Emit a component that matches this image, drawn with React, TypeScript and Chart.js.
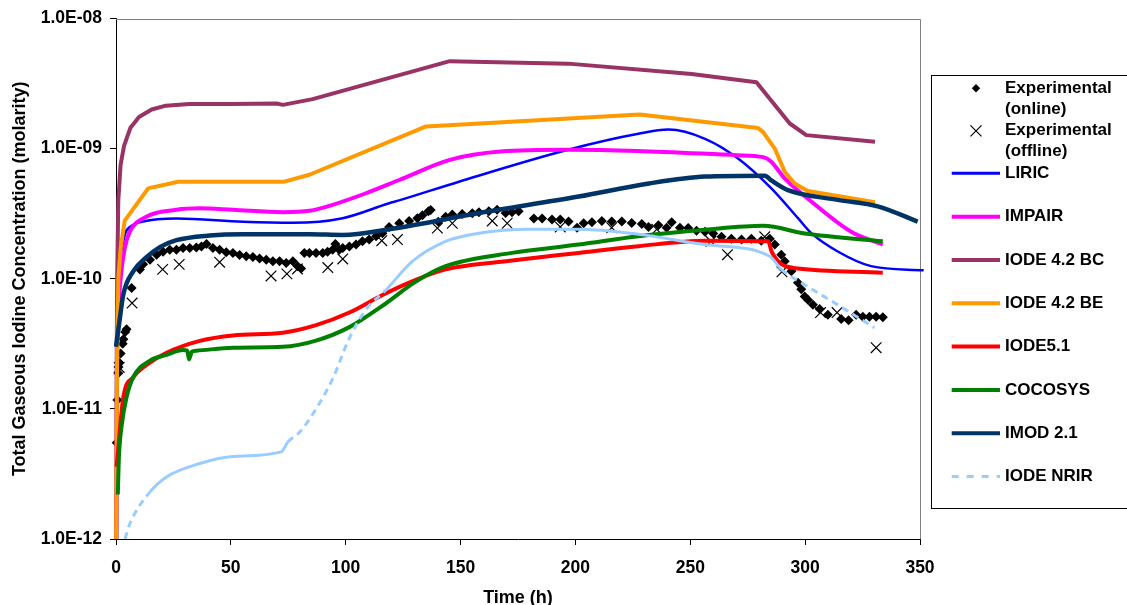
import React, { useEffect, useRef } from "react";
import { Chart, registerables } from "chart.js";

Chart.register(...registerables);

type Pt = [number, number];

const X_MIN = 0;
const X_MAX = 350;
const X_STEP = 50;
const Y_MIN = 1e-12;
const Y_MAX = 1e-8;
const Y_TICKS = [1e-12, 1e-11, 1e-10, 1e-9, 1e-8];

const X_TITLE = "Time (h)";
const Y_TITLE = "Total Gaseous Iodine Concentration (molarity)";

const EXP_ONLINE: Pt[] = [
  [0.3, 5.5e-12], [0.6, 1.17e-11], [1.0, 1.88e-11], [1.1, 2.1e-11], [1.4, 2.27e-11], [2.0, 2.66e-11],
  [2.9, 3.16e-11], [3.2, 3.43e-11], [4.0, 3.9e-11], [4.6, 4.1e-11],
  [6.8, 8.5e-11], [10.4, 1.18e-10], [11.8, 1.29e-10], [14.8, 1.4e-10], [17.7, 1.53e-10], [20.5, 1.61e-10],
  [23.4, 1.67e-10], [26.3, 1.67e-10], [29.2, 1.72e-10], [32.1, 1.72e-10], [35, 1.74e-10], [37.2, 1.77e-10],
  [39.4, 1.85e-10], [42.2, 1.72e-10], [45.1, 1.67e-10], [48, 1.6e-10], [50.9, 1.58e-10], [53.8, 1.52e-10],
  [56.7, 1.49e-10], [59.6, 1.47e-10], [62.5, 1.43e-10], [65.4, 1.4e-10], [68.3, 1.36e-10], [71.2, 1.36e-10],
  [74.1, 1.32e-10], [77, 1.36e-10], [79.1, 1.25e-10], [80.6, 1.2e-10], [82, 1.58e-10], [84.2, 1.58e-10],
  [87.1, 1.58e-10], [90, 1.58e-10], [92.1, 1.61e-10], [94.3, 1.67e-10], [95.5, 1.85e-10], [97.2, 1.67e-10],
  [98.7, 1.72e-10], [101.6, 1.77e-10], [104.5, 1.83e-10], [107.3, 1.94e-10], [110.2, 2.0e-10], [113.2, 2.12e-10],
  [116, 2.24e-10], [118.9, 2.5e-10], [123.3, 2.67e-10], [127.6, 2.78e-10], [131.2, 2.92e-10], [133.4, 3.07e-10],
  [136, 3.3e-10], [137, 3.38e-10], [140.3, 2.74e-10], [143.5, 3.0e-10], [146.4, 3.12e-10], [150.7, 3.14e-10],
  [155.1, 3.19e-10], [158, 3.25e-10], [162.3, 3.3e-10], [165.9, 3.39e-10], [169.6, 3.2e-10], [172.4, 3.25e-10],
  [175.3, 3.3e-10],
  [181.9, 2.9e-10], [185.5, 2.9e-10], [189.8, 2.85e-10], [193.4, 2.85e-10], [197, 2.75e-10], [200.7, 2.47e-10],
  [203.6, 2.67e-10], [207.2, 2.72e-10], [211.5, 2.78e-10], [215.8, 2.75e-10], [220.2, 2.75e-10], [224.5, 2.68e-10],
  [228.9, 2.63e-10], [231.8, 2.5e-10], [236.1, 2.58e-10], [239.7, 2.47e-10], [241.9, 2.72e-10], [245.5, 2.47e-10],
  [249.1, 2.45e-10], [252.7, 2.34e-10], [256.4, 2.3e-10], [260, 2.23e-10], [263.6, 2.1e-10], [267.9, 2.03e-10],
  [272.3, 2.0e-10], [276.6, 2.03e-10], [280.9, 1.96e-10], [284.6, 2.03e-10], [286.8, 1.83e-10], [289.6, 1.53e-10],
  [291.1, 1.36e-10], [294, 1.14e-10], [296.9, 9.3e-11], [298.3, 8.3e-11], [299.8, 7.3e-11], [301.2, 6.9e-11],
  [303.4, 6.3e-11], [306.3, 5.85e-11], [309.9, 5.3e-11], [315.7, 4.9e-11], [318.9, 4.8e-11], [322.2, 5.3e-11],
  [325.1, 5.1e-11], [328, 5.1e-11], [330.9, 5.1e-11], [333.8, 5.05e-11],
];

const EXP_OFFLINE: Pt[] = [
  [1.4, 2.08e-11], [7, 6.5e-11], [20.3, 1.18e-10], [27.5, 1.29e-10], [45.1, 1.34e-10], [67.5, 1.05e-10],
  [74.4, 1.09e-10], [79, 1.19e-10], [92.2, 1.22e-10], [98.7, 1.42e-10], [115.7, 1.96e-10], [122.5, 2.0e-10],
  [139.9, 2.45e-10], [146.4, 2.67e-10], [163.8, 2.78e-10], [170.3, 2.67e-10], [193.4, 2.5e-10], [215.8, 2.47e-10],
  [235.4, 2.4e-10], [259, 1.94e-10], [266.2, 1.53e-10], [282.4, 2.1e-10], [289.9, 1.13e-10], [306.7, 5.5e-11],
  [313.9, 5.5e-11], [330.9, 2.95e-11],
];

const LIRIC: Pt[] = [
  [0, 5e-13], [0.3, 3e-11], [1, 8e-11], [2, 1.4e-10], [3.9, 2.2e-10], [6.1, 2.5e-10], [11.8, 2.75e-10],
  [26.3, 2.9e-10], [55.3, 2.74e-10], [77, 2.69e-10], [98.7, 2.92e-10], [118.9, 3.8e-10], [123.3, 4.0e-10],
  [149.3, 5.57e-10], [196.8, 9.8e-10], [227.4, 1.3e-9], [240.5, 1.4e-9], [256.4, 1.19e-9], [270.8, 8.4e-10],
  [285.3, 4.95e-10], [296.9, 2.92e-10], [302.7, 2.24e-10], [314.2, 1.62e-10], [328.7, 1.25e-10], [351.6, 1.16e-10],
];

const IMPAIR: Pt[] = [
  [0, 5e-13], [0.5, 2e-11], [1, 5e-11], [2, 1e-10], [3.9, 1.75e-10], [6, 2.3e-10], [11.6, 2.9e-10],
  [26.3, 3.39e-10], [36.5, 3.48e-10], [50.9, 3.39e-10], [72.6, 3.25e-10], [84.2, 3.33e-10], [94.3, 3.7e-10],
  [108.8, 4.54e-10], [123.3, 5.74e-10], [145.3, 8.2e-10], [167.4, 9.5e-10], [196.8, 9.8e-10], [227, 9.6e-10],
  [270.4, 8.9e-10], [281.7, 8.6e-10], [285, 8.0e-10], [291.1, 5.9e-10], [302.7, 3.92e-10], [320, 2.3e-10],
  [333.8, 1.83e-10],
];

const IODE42_BC: Pt[] = [
  [0, 5e-13], [0.2, 1e-11], [0.5, 1e-10], [1, 4e-10], [2, 7.5e-10], [3.5, 1.05e-9], [6.3, 1.45e-9],
  [10, 1.75e-9], [15.5, 2.0e-9], [21.7, 2.14e-9], [32, 2.2e-9], [50, 2.2e-9], [70, 2.22e-9], [72.6, 2.17e-9],
  [85.6, 2.4e-9], [145.3, 4.7e-9], [196.8, 4.5e-9], [250.6, 3.75e-9], [278.8, 3.24e-9], [293.3, 1.56e-9],
  [300.5, 1.27e-9], [330.4, 1.13e-9],
];

const IODE42_BE: Pt[] = [
  [0, 5e-13], [0.5, 3e-11], [1, 1e-10], [2, 1.7e-10], [3.8, 2.8e-10], [14, 4.95e-10], [27, 5.57e-10],
  [73.3, 5.57e-10], [84.2, 6.3e-10], [135, 1.48e-9], [228, 1.83e-9], [279.5, 1.44e-9], [281.7, 1.34e-9],
  [286.8, 1.0e-9], [291.1, 6.65e-10], [295.4, 5.4e-10], [301.2, 4.73e-10], [330.4, 3.87e-10],
];

const IODE51: Pt[] = [
  [0.3, 3.6e-12], [3.2, 1.23e-11], [7.5, 1.75e-11], [14.8, 2.27e-11], [22, 2.7e-11], [36.5, 3.33e-11],
  [50.9, 3.67e-11], [72.6, 3.85e-11], [87.1, 4.4e-11], [101.6, 5.5e-11], [116, 7.5e-11], [130.5, 9.8e-11],
  [143.5, 1.18e-10], [172.4, 1.38e-10], [201.4, 1.58e-10], [227.4, 1.78e-10], [256.4, 1.96e-10],
  [283.9, 1.94e-10], [285.5, 1.6e-10], [288.5, 1.35e-10], [291.4, 1.25e-10], [296.9, 1.2e-10], [333.8, 1.11e-10],
];

const COCOSYS: Pt[] = [
  [0.8, 2.2e-12], [1.2, 4e-12], [2.5, 7.5e-12], [4.6, 1.23e-11], [7.5, 1.75e-11], [14.8, 2.35e-11],
  [22, 2.6e-11], [29.2, 2.83e-11], [31, 2.8e-11], [31.8, 2.4e-11], [33, 2.75e-11], [35, 2.8e-11],
  [50.9, 2.95e-11], [72.6, 3.0e-11], [87.1, 3.35e-11], [101.6, 4.25e-11], [116, 6.2e-11], [130.5, 9.5e-11],
  [143.5, 1.25e-10], [172.4, 1.58e-10], [201.4, 1.83e-10], [227.4, 2.12e-10], [256.4, 2.38e-10],
  [281.7, 2.55e-10], [299.8, 2.23e-10], [333.8, 1.94e-10],
];

const IMOD21: Pt[] = [
  [0, 3e-11], [1.7, 5e-11], [3.2, 7.6e-11], [7.5, 1.14e-10], [13, 1.45e-10], [19.1, 1.75e-10], [26.3, 1.98e-10],
  [40.8, 2.15e-10], [55.3, 2.2e-10], [84.2, 2.2e-10], [98.7, 2.17e-10], [118.9, 2.4e-10], [158, 3.2e-10],
  [201.4, 4.28e-10], [232, 5.4e-10], [256.4, 6.1e-10], [282.4, 6.2e-10], [285.3, 5.7e-10], [292.5, 4.8e-10],
  [314.2, 4.04e-10], [331.6, 3.6e-10], [349, 2.75e-10],
];

const IODE_NRIR: Pt[] = [
  [3.9, 1e-12], [6.1, 1.32e-12], [14.8, 2.3e-12], [22, 3.0e-12], [36.5, 3.8e-12], [50.9, 4.3e-12],
  [71.9, 4.67e-12], [74.8, 5.56e-12], [79.9, 6.6e-12], [87.1, 1.0e-11], [94.3, 1.7e-11], [101.6, 3.5e-11],
  [108.8, 5.8e-11], [117.5, 8.2e-11], [129, 1.36e-10], [143.5, 1.94e-10], [158, 2.24e-10], [179.7, 2.4e-10],
  [201.4, 2.4e-10], [227.4, 2.2e-10], [256.4, 1.83e-10], [284.6, 1.49e-10], [289.6, 1.18e-10],
  [299.8, 9.0e-11], [314.2, 6.3e-11], [330.2, 4.2e-11],
];

// portions of IODE NRIR that render as solid (dense points in the original)
const NRIR_SOLID_RANGES: Pt[] = [[14, 75], [117, 290]];

const FONT = 'Arial, "Liberation Sans", Helvetica, sans-serif';

const toXY = (pts: Pt[]) => pts.map(([x, y]) => ({ x, y }));

const fmtTick = (v: number) => {
  const e = Math.round(Math.log10(v));
  const sign = e < 0 ? "-" : "+";
  return `1.0E${sign}${String(Math.abs(e)).padStart(2, "0")}`;
};

const lineDs = (label: string, data: Pt[], color: string, width: number, extra: any = {}) => ({
  label,
  data: toXY(data),
  borderColor: color,
  backgroundColor: color,
  borderWidth: width,
  pointRadius: 0,
  pointHoverRadius: 0,
  fill: false,
  borderJoinStyle: "round",
  ...extra,
});

const frameBorderPlugin = {
  id: "frameBorder",
  beforeDatasetsDraw(chart: any) {
    const { ctx, chartArea: a } = chart;
    ctx.save();
    ctx.strokeStyle = "#808080";
    ctx.lineWidth = 1;
    ctx.beginPath();
    ctx.moveTo(a.left, Math.round(a.top) + 0.5);
    ctx.lineTo(Math.round(a.right) + 0.5, Math.round(a.top) + 0.5);
    ctx.lineTo(Math.round(a.right) + 0.5, a.bottom);
    ctx.stroke();
    ctx.restore();
  },
};

const boxLegendPlugin = {
  id: "boxLegend",
  afterDraw(chart: any) {
    const ctx = chart.ctx;
    ctx.save();
    ctx.strokeStyle = "#000";
    ctx.lineWidth = 1;
    ctx.strokeRect(931.5, 75.5, 260, 433);
    ctx.font = `bold 17px ${FONT}`;
    ctx.textBaseline = "middle";
    ctx.textAlign = "left";
    let y = 88.3;
    const markX = 976;
    chart.data.datasets.forEach((ds: any) => {
      const label: string = ds.label;
      const idx = label.indexOf(" (");
      const lines = idx > 0 ? [label.slice(0, idx), label.slice(idx + 1)] : [label];
      if (ds.showLine === false) {
        ctx.fillStyle = "#000";
        ctx.strokeStyle = "#000";
        if (ds.pointStyle === "rectRot") {
          const r = 4.2;
          ctx.beginPath();
          ctx.moveTo(markX - r, y);
          ctx.lineTo(markX, y - r);
          ctx.lineTo(markX + r, y);
          ctx.lineTo(markX, y + r);
          ctx.closePath();
          ctx.fill();
        } else {
          const r = 5.5;
          ctx.lineWidth = 1.2;
          ctx.beginPath();
          ctx.moveTo(markX - r, y - r);
          ctx.lineTo(markX + r, y + r);
          ctx.moveTo(markX - r, y + r);
          ctx.lineTo(markX + r, y - r);
          ctx.stroke();
        }
      } else {
        ctx.strokeStyle = ds.borderColor;
        ctx.lineWidth = ds.legendWidth || ds.borderWidth;
        ctx.setLineDash(ds.legendDash || []);
        ctx.beginPath();
        ctx.moveTo(951.7, y);
        ctx.lineTo(1000, y);
        ctx.stroke();
        ctx.setLineDash([]);
      }
      ctx.fillStyle = "#000";
      lines.forEach((t, i) => ctx.fillText(t, 1005, y + i * 21));
      y += lines.length === 2 ? 42.5 : 43.33;
    });
    ctx.restore();
  },
};

export default function App() {
  const ref = useRef<HTMLCanvasElement>(null);

  useEffect(() => {
    document.body.style.margin = "0";
    const inSolid = (a: number, b: number) =>
      NRIR_SOLID_RANGES.some(([s, e]) => a >= s && b <= e);

    const datasets: any[] = [
      {
        label: "Experimental (online)",
        data: toXY(EXP_ONLINE),
        showLine: false,
        pointStyle: "rectRot",
        pointRadius: 5,
        pointBorderWidth: 0,
        backgroundColor: "#000",
        borderColor: "#000",
        clip: 6,
      },
      {
        label: "Experimental (offline)",
        data: toXY(EXP_OFFLINE),
        showLine: false,
        pointStyle: "crossRot",
        pointRadius: 7.5,
        pointBorderWidth: 1.2,
        backgroundColor: "#000",
        borderColor: "#000",
        clip: 6,
      },
      lineDs("LIRIC", LIRIC, "#0000FF", 2.5, {
        cubicInterpolationMode: "monotone",
        clip: { left: 2, top: 2, right: 8, bottom: 0 },
        legendWidth: 3,
      }),
      lineDs("IMPAIR", IMPAIR, "#FF00FF", 4, { cubicInterpolationMode: "monotone", clip: { left: 2, top: 2, right: 2, bottom: 0 } }),
      lineDs("IODE 4.2 BC", IODE42_BC, "#993366", 4, { clip: { left: 2, top: 2, right: 2, bottom: 0 } }),
      lineDs("IODE 4.2 BE", IODE42_BE, "#FF9900", 4, { clip: { left: 2, top: 2, right: 2, bottom: 0 } }),
      lineDs("IODE5.1", IODE51, "#FF0000", 4, { cubicInterpolationMode: "monotone", clip: { left: 2, top: 2, right: 2, bottom: 0 } }),
      lineDs("COCOSYS", COCOSYS, "#008000", 4, { cubicInterpolationMode: "monotone", clip: { left: 2, top: 2, right: 2, bottom: 0 } }),
      lineDs("IMOD 2.1", IMOD21, "#003366", 4.5, {
        cubicInterpolationMode: "monotone",
        clip: { left: 2, top: 2, right: 4, bottom: 0 },
        legendWidth: 4,
      }),
      lineDs("IODE NRIR", IODE_NRIR, "#99CCFF", 3, {
        cubicInterpolationMode: "monotone",
        borderDash: [7, 5],
        legendDash: [7, 8],
        clip: { left: 2, top: 2, right: 2, bottom: 0 },
        segment: {
          borderDash: (c: any) => (inSolid(c.p0.parsed.x, c.p1.parsed.x) ? [] : undefined),
        },
      }),
    ];
    const n = datasets.length;
    datasets.forEach((d, i) => (d.order = n - i));

    const tickFont = { family: FONT, size: 17.5, weight: "bold" as const };
    const chart = new Chart(ref.current as HTMLCanvasElement, {
      type: "line",
      data: { datasets },
      options: {
        responsive: false,
        animation: false,
        events: [],
        layout: { padding: { left: 0, top: 16, right: 1127 - 920, bottom: 0 } },
        plugins: { legend: { display: false }, tooltip: { enabled: false } },
        scales: {
          x: {
            type: "linear",
            min: X_MIN,
            max: X_MAX,
            afterFit: (s: any) => {
              s.height = 605 - 539;
            },
            ticks: { stepSize: X_STEP, color: "#000", font: tickFont, padding: 13, maxRotation: 0 },
            grid: { drawOnChartArea: false, drawTicks: true, tickLength: 6, color: "#000" },
            border: { display: true, color: "#000", width: 1 },
            title: {
              display: true,
              text: X_TITLE,
              color: "#000",
              font: { family: FONT, size: 18, weight: "bold", lineHeight: 0.8 },
              padding: { top: 0, bottom: 0 },
            },
          },
          y: {
            type: "logarithmic",
            min: Y_MIN,
            max: Y_MAX,
            afterFit: (s: any) => {
              s.width = 116;
            },
            afterBuildTicks: (s: any) => {
              s.ticks = Y_TICKS.map((v) => ({ value: v }));
            },
            ticks: {
              color: "#000",
              font: tickFont,
              padding: 8,
              autoSkip: false,
              callback: (v: any) => fmtTick(Number(v)),
            },
            grid: { drawOnChartArea: false, drawTicks: true, tickLength: 6, color: "#000" },
            border: { display: true, color: "#000", width: 1 },
            title: {
              display: true,
              text: Y_TITLE,
              color: "#000",
              font: { family: FONT, size: 18, weight: "bold", lineHeight: 1.2 },
              padding: { top: 9, bottom: 0 },
            },
          },
        },
      } as any,
      plugins: [frameBorderPlugin, boxLegendPlugin],
    });
    return () => chart.destroy();
  }, []);

  return (
    <div style={{ width: 1127, height: 605 }}>
      <canvas ref={ref} width={1127} height={605} style={{ display: "block" }} />
    </div>
  );
}
